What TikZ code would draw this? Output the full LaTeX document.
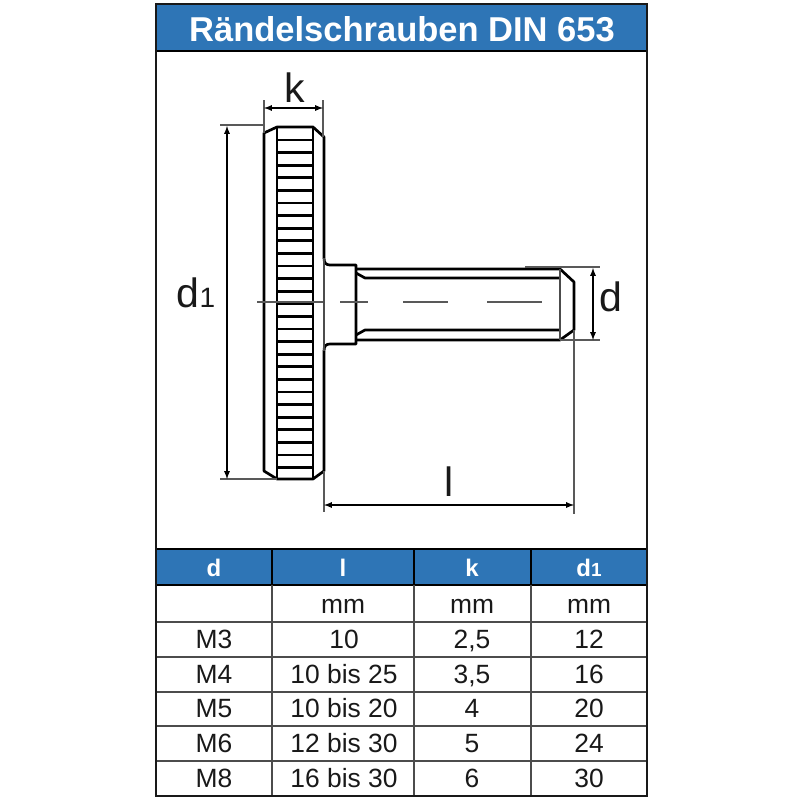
\documentclass[tikz,border=0pt]{standalone}
\usepackage{fontspec}
\setmainfont{Liberation Sans}
\usetikzlibrary{arrows, positioning}
\definecolor{bandblue}{RGB}{46,117,182}
\newcommand{\fs}[1]{\fontsize{#1}{#1}\selectfont}
\tikzstyle{band} = [fill=bandblue, draw=black, line width=1.6pt]
\tikzstyle{titel} = [text=white, font=\fs{34.5}\bfseries]
\tikzstyle{kopf} = [text=white, font=\fs{24}\bfseries, text height=17pt, text depth=0pt]
\tikzstyle{zelle} = [font=\fs{26.4}, text=black!90, text height=17pt, text depth=0pt]
\tikzstyle{mass} = [text=black!90, font=\fs{41}]
\tikzstyle{gitter} = [draw=black!70, line width=1.4pt]
\tikzstyle{kontur} = [draw=black, line width=2.7pt, line join=round]
\tikzstyle{duenn} = [draw=black!70, line width=1.3pt]
\tikzstyle{hilfslinie} = [draw=black!65, line width=1.1pt]
\tikzstyle{masspfeil} = [draw=black, line width=1.7pt, latex-latex]
\tikzstyle{mittellinie} = [draw=black!65, line width=1.4pt]

\begin{document}
\begin{tikzpicture}[x=1pt, y=-1pt]
	\useasboundingbox (0,0) rectangle (800,800);
	\fill[white] (0,0) rectangle (800,800);
	% Titel und Tabellenkopf
	\draw[band] (156,4) rectangle (647,51);
	\node[titel] (titel) at (402,29) {Rändelschrauben DIN 653};
	\draw[band] (156,549) rectangle (647,585);
	\foreach \y in {622,657,692,726,761}
		\draw[gitter] (156,\y) -- (647,\y);
	\foreach \x in {272,414,531}
		\draw[gitter] (\x,585) -- (\x,796);
	\foreach \x in {272,414,531}
		\draw[draw=black, line width=1.6pt] (\x,549) -- (\x,585);
	\draw[draw=black!90, line width=1.8pt] (156,4) rectangle (647,796);
	\node[kopf] (kd) at (214,568) {d};
	\node[kopf] (kl) at (343,568) {l};
	\node[kopf] (kk) at (472,568) {k};
	\node[kopf] (kdi) at (589,568) {d{\fs{19}1}};
	% Tabelle
	\node[zelle] (el) at (343,605) {mm};
	\node[zelle] (ek) at (472,605) {mm};
	\node[zelle] (edi) at (589,605) {mm};
	\foreach \n/\y/\d/\l/\k/\di in {a/640/M3/10/{2,5}/12, b/675/M4/10 bis 25/{3,5}/16, c/709/M5/10 bis 20/4/20, e/744/M6/12 bis 30/5/24, f/779/M8/16 bis 30/6/30}{
		\node[zelle] (d\n) at (214,\y) {\d};
		\node[zelle] (l\n) at (344,\y) {\l};
		\node[zelle] (k\n) at (472,\y) {\k};
		\node[zelle] (di\n) at (589,\y) {\di};
	}
	% Schraube
	\draw[kontur] (324,258) -- (324,137) -- (313,127) -- (277,127) -- (264,133) -- (264,471) -- (277,479) -- (313,479) -- (324,471) -- (324,351);
	\draw[kontur] (277,127) -- (277,479);
	\draw[kontur] (313,127) -- (313,479);
	\foreach \i in {0,...,26}
		\draw[kontur] (277,140+12.6*\i) -- (313,140+12.6*\i);
	\draw[kontur] (324,258) .. controls (324,263) and (326,265) .. (330,265) -- (356,265) -- (356,344) -- (330,344) .. controls (326,344) and (324,346) .. (324,351);
	\draw[duenn] (324,258) -- (324,351);
	\draw[kontur] (356,269) -- (560,269) -- (574,282) -- (574,330) -- (560,340) -- (356,340);
	\draw[kontur] (356,273) -- (365,278) -- (560,278);
	\draw[kontur] (356,335) -- (365,330) -- (560,330);
	\draw[duenn, line width=2pt] (560,269) -- (560,340);
	% Mittellinie
	\foreach \a/\b in {257/323,340/368,403/448,487/542}
		\draw[mittellinie] (\a,302) -- (\b,302);
	% Massbezug
	\coordinate (kl0) at (264,100);
	\coordinate (kl1) at (264,133);
	\coordinate (kr0) at (323,100);
	\coordinate (kr1) at (323,137);
	\coordinate (ko0) at (220,125);
	\coordinate (ko1) at (264,125);
	\coordinate (ku0) at (220,479);
	\coordinate (ku1) at (277,479);
	\coordinate (lr0) at (574,330);
	\coordinate (lr1) at (574,514);
	\coordinate (ll0) at (324,471);
	\coordinate (ll1) at (324,512);
	\coordinate (do0) at (525,267);
	\coordinate (do1) at (600,267);
	\coordinate (du0) at (560,340);
	\coordinate (du1) at (600,340);
	\foreach \a/\b in {kl0/kl1,kr0/kr1,ko0/ko1,ku0/ku1,lr0/lr1,ll0/ll1,do0/do1,du0/du1}
		\draw[hilfslinie] (\a) -- (\b);
	\coordinate (pk0) at (264,108);
	\coordinate (pk1) at (323,108);
	\coordinate (pd0) at (227,126);
	\coordinate (pd1) at (227,479);
	\coordinate (pl0) at (324,505);
	\coordinate (pl1) at (574,505);
	\coordinate (ps0) at (593,268);
	\coordinate (ps1) at (593,340);
	\foreach \a/\b in {pk0/pk1,pd0/pd1,pl0/pl1,ps0/ps1}
		\draw[masspfeil] (\a) -- (\b);
	\node[mass] (mk) at (295,88) {k};
	\node[mass] (mdi) at (196,293) {d{\fs{28}1}};
	\node[mass] (mdd) at (611,297) {d};
	\node[mass] (ml) at (449,482) {l};
\end{tikzpicture}
\end{document}
